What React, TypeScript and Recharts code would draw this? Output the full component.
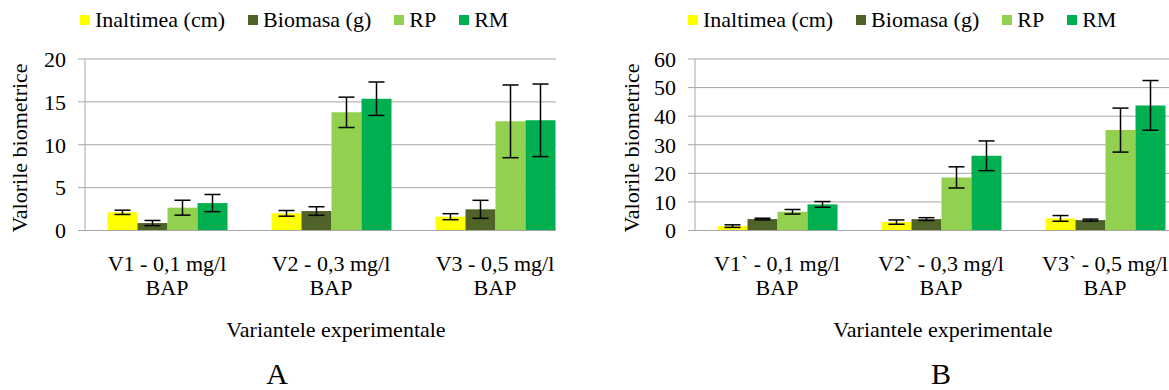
import { BarChart, Bar, XAxis, YAxis, CartesianGrid, ErrorBar } from "recharts";

const FONT = "'Liberation Serif', Tinos, 'Times New Roman', 'DejaVu Serif', serif";
const GRID = "#a6a6a6";

// panel A
const categoriesA = ["V1 - 0,1 mg/l", "V2 - 0,3 mg/l", "V3 - 0,5 mg/l"];
const secondLineA = ["BAP", "BAP", "BAP"];
const inaltimeaA = [2.12, 2.0, 1.61];
const inaltimeaErrA = [0.25, 0.33, 0.35];
const biomasaA = [0.87, 2.27, 2.47];
const biomasaErrA = [0.3, 0.5, 1.05];
const rpA = [2.66, 13.78, 12.73];
const rpErrA = [0.87, 1.77, 4.24];
const rmA = [3.2, 15.37, 12.85];
const rmErrA = [1.0, 1.95, 4.23];
const yTicksA = [0, 5, 10, 15, 20];

// panel B
const categoriesB = ["V1` - 0,1 mg/l", "V2` - 0,3 mg/l", "V3` - 0,5 mg/l"];
const secondLineB = ["BAP", "BAP", "BAP"];
const inaltimeaB = [1.54, 2.94, 4.23];
const inaltimeaErrB = [0.45, 0.75, 1.0];
const biomasaB = [4.0, 3.99, 3.64];
const biomasaErrB = [0.3, 0.5, 0.35];
const rpB = [6.55, 18.58, 35.13];
const rpErrB = [0.8, 3.7, 7.7];
const rmB = [9.13, 26.14, 43.77];
const rmErrB = [1.0, 5.2, 8.7];
const yTicksB = [0, 10, 20, 30, 40, 50, 60];

const SERIES = [
  { key: "inalt", name: "Inaltimea (cm)", color: "#ffff00" },
  { key: "biom", name: "Biomasa (g)", color: "#4f6228" },
  { key: "rp", name: "RP", color: "#92d050" },
  { key: "rm", name: "RM", color: "#00b050" },
];

const rowsA = categoriesA.map((cat, i) => ({
  cat,
  inalt: inaltimeaA[i], inaltErr: inaltimeaErrA[i],
  biom: biomasaA[i], biomErr: biomasaErrA[i],
  rp: rpA[i], rpErr: rpErrA[i],
  rm: rmA[i], rmErr: rmErrA[i],
}));

const rowsB = categoriesB.map((cat, i) => ({
  cat,
  inalt: inaltimeaB[i], inaltErr: inaltimeaErrB[i],
  biom: biomasaB[i], biomErr: biomasaErrB[i],
  rp: rpB[i], rpErr: rpErrB[i],
  rm: rmB[i], rmErr: rmErrB[i],
}));

function CatTick(props: any) {
  const { x, y, payload, index, line2 } = props;
  return (
    <text x={x} y={y} textAnchor="middle" fontFamily={FONT} fontSize={22} fill="#000">
      <tspan x={x} dy={40}>{payload.value}</tspan>
      <tspan x={x} dy={24}>{line2[index]}</tspan>
    </text>
  );
}

function Legend({ left }: { left: number }) {
  return (
    <div style={{ position: "absolute", left, top: 9, height: 22, display: "flex", alignItems: "center", fontSize: 22, lineHeight: "22px", whiteSpace: "nowrap" }}>
      {SERIES.map((s) => (
        <div key={s.key} style={{ display: "flex", alignItems: "center", marginRight: 23 }}>
          <span style={{ width: 10, height: 10, background: s.color, marginRight: 5, display: "inline-block" }} />
          <span>{s.name}</span>
        </div>
      ))}
    </div>
  );
}

function Panel(p: any) {
  const edges = Array.from({ length: p.data.length + 1 }, (_, i) => i);
  return (
    <div style={{ position: "absolute", left: p.left, top: 0, width: p.clip, height: 390, overflow: "hidden" }}>
      <BarChart
        width={p.width}
        height={390}
        data={p.data}
        margin={{ top: 59, right: p.right, bottom: 157.5, left: 0 }}
        barCategoryGap={22.5}
        barGap={0}
      >
        <CartesianGrid vertical={false} stroke={GRID} />
        <XAxis
          dataKey="cat"
          height={1}
          interval={0}
          tickLine={false}
          tickSize={0}
          tickMargin={0}
          axisLine={{ stroke: GRID }}
          tick={(t: any) => <CatTick {...t} line2={p.line2} />}
        />
        <XAxis
          xAxisId="edge"
          type="number"
          domain={[0, p.data.length]}
          ticks={edges}
          allowDataOverflow
          height={1}
          tick={false}
          axisLine={false}
          tickLine={{ stroke: GRID }}
          tickSize={6}
        />
        <YAxis
          width={p.yAxisW}
          domain={[0, p.yTicks[p.yTicks.length - 1]]}
          ticks={p.yTicks}
          interval={0}
          tickSize={7}
          tickMargin={12}
          axisLine={{ stroke: GRID }}
          tickLine={{ stroke: GRID }}
          tick={{ fontFamily: FONT, fontSize: 22, fill: "#000" }}
        />
        {SERIES.map((s) => (
          <Bar key={s.key} dataKey={s.key} name={s.name} fill={s.color} isAnimationActive={false}>
            <ErrorBar dataKey={s.key + "Err"} direction="y" width={8} stroke="#000" strokeWidth={1.5} isAnimationActive={false} />
          </Bar>
        ))}
      </BarChart>
    </div>
  );
}

const centered = (x: number, y: number, extra: any = {}) => ({
  position: "absolute" as const,
  left: x,
  top: y,
  transform: "translate(-50%, -50%)",
  whiteSpace: "nowrap" as const,
  lineHeight: 1,
  fontSize: 22,
  ...extra,
});

export default function App() {
  return (
    <div style={{ position: "absolute", left: 0, top: 0, width: 1169, height: 390, background: "#fff", fontFamily: FONT, color: "#000", overflow: "hidden" }}>
      <Panel left={0} clip={556} width={600} right={23} yAxisW={85} data={rowsA} line2={secondLineA} yTicks={yTicksA} />
      <Panel left={600} clip={569} width={620} right={33} yAxisW={95} data={rowsB} line2={secondLineB} yTicks={yTicksB} />

      <Legend left={80} />
      <Legend left={688} />

      <div style={centered(20, 148, { transform: "translate(-50%, -50%) rotate(-90deg)" })}>Valorile biometrice</div>
      <div style={centered(632, 148, { transform: "translate(-50%, -50%) rotate(-90deg)" })}>Valorile biometrice</div>

      <div style={centered(336, 330)}>Variantele experimentale</div>
      <div style={centered(943, 330)}>Variantele experimentale</div>

      <div style={centered(277, 374, { fontSize: 30, lineHeight: 0.8 })}>A</div>
      <div style={centered(941, 374, { fontSize: 30, lineHeight: 0.8 })}>B</div>
    </div>
  );
}
